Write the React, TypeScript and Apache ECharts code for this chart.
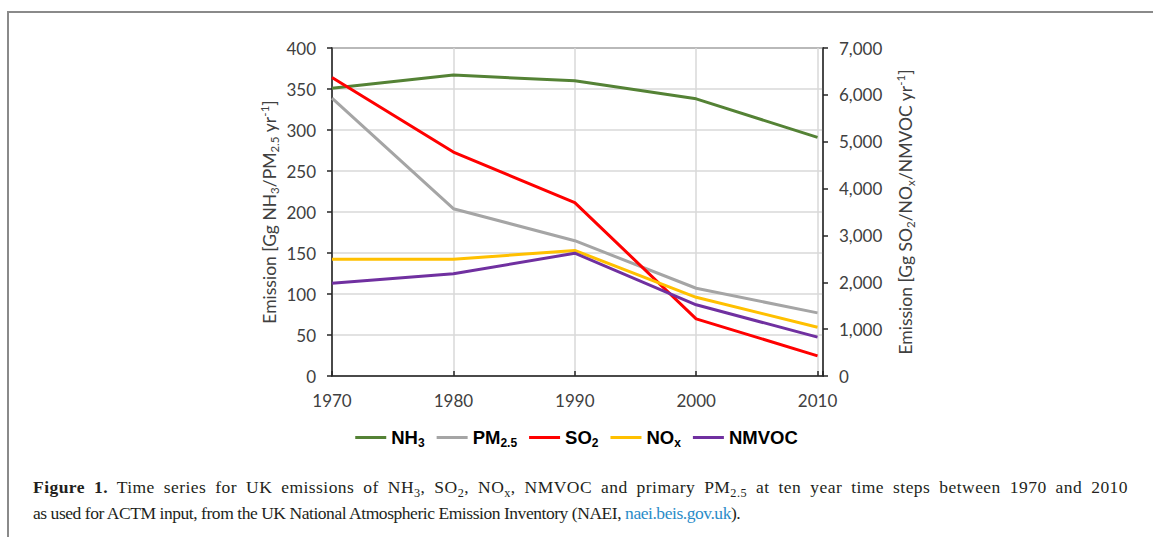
import React, { useEffect, useRef } from "react";
import * as echarts from "echarts";

const years = [1970, 1980, 1990, 2000, 2010];
const nh3 = [351, 367, 360, 338, 291];
const pm25 = [339, 204, 165, 107, 77];
const so2 = [6370, 4780, 3700, 1220, 430];
const nox = [2490, 2490, 2680, 1680, 1040];
const nmvoc = [1980, 2180, 2620, 1520, 830];

const leftTicks = { min: 0, max: 400, interval: 50 };
const rightTicks = { min: 0, max: 7000, interval: 1000 };

const seriesDefs = [
  { name: "NH3", label: "{b|NH}{s|3}", data: nh3, axis: 0, color: "#548235" },
  { name: "PM2.5", label: "{b|PM}{s|2.5}", data: pm25, axis: 0, color: "#a5a5a5" },
  { name: "SO2", label: "{b|SO}{s|2}", data: so2, axis: 1, color: "#ff0000" },
  { name: "NOx", label: "{b|NO}{s|x}", data: nox, axis: 1, color: "#ffc000" },
  { name: "NMVOC", label: "{b|NMVOC}", data: nmvoc, axis: 1, color: "#7030a0" },
];

const axisFont = "Lato, 'Noto Sans', sans-serif";
const axisColor = "#262626";
const labelColor = "#404040";

const nameRich = {
  t: { fontSize: 17.5, fontFamily: axisFont, color: labelColor, lineHeight: 22, verticalAlign: "middle" as const },
  sub: { fontSize: 11.5, fontFamily: axisFont, color: labelColor, verticalAlign: "bottom" as const, lineHeight: 13 },
  sup: { fontSize: 11.5, fontFamily: axisFont, color: labelColor, verticalAlign: "top" as const, lineHeight: 13 },
};

export default function App() {
  const ref = useRef<HTMLDivElement>(null);

  useEffect(() => {
    if (!ref.current) return;
    const chart = echarts.init(ref.current, undefined, { renderer: "svg" });
    chart.setOption({
      animation: false,
      grid: {
        left: 332,
        right: 330,
        top: 48,
        bottom: 161,
        containLabel: false,
        show: true,
        borderColor: axisColor,
        borderWidth: 1.5,
        backgroundColor: "transparent",
      },
      legend: {
        top: 423,
        left: "center",
        itemWidth: 31,
        itemHeight: 3,
        itemGap: 12,
        icon: "rect",
        data: seriesDefs.map((s) => s.name),
        formatter: (name: string) => {
          const d = seriesDefs.find((s) => s.name === name);
          return d ? d.label : name;
        },
        textStyle: {
          color: "#000",
          rich: {
            b: { fontSize: 18.5, fontWeight: "bold", fontFamily: "'Liberation Sans', Arial, sans-serif", color: "#000", lineHeight: 22, verticalAlign: "middle" },
            s: { fontSize: 12, fontWeight: "bold", fontFamily: "'Liberation Sans', Arial, sans-serif", color: "#000", verticalAlign: "bottom", lineHeight: 16 },
          },
        },
      },
      xAxis: {
        type: "value",
        min: 1970,
        max: 2010.45,
        interval: 10,
        axisLine: { show: true, lineStyle: { color: axisColor, width: 1.5 } },
        axisTick: { show: true, inside: true, length: 5, lineStyle: { color: axisColor, width: 1.5 } },
        axisLabel: {
          margin: 16,
          fontSize: 17,
          fontFamily: axisFont,
          color: labelColor,
          formatter: (v: number) => (Number.isInteger(v) && v % 10 === 0 ? String(v) : ""),
        },
        splitLine: { show: true, lineStyle: { color: "#d9d9d9", width: 1.5 } },
      },
      yAxis: [
        {
          type: "value",
          position: "left",
          min: leftTicks.min,
          max: leftTicks.max,
          interval: leftTicks.interval,
          axisLine: { show: true, lineStyle: { color: axisColor, width: 1.5 } },
          axisTick: { show: true, length: 5, lineStyle: { color: axisColor, width: 1.5 } },
          axisLabel: { margin: 16, fontSize: 17, fontFamily: axisFont, color: labelColor },
          splitLine: { show: true, lineStyle: { color: "#d9d9d9", width: 1.5 } },
          name: "{t|Emission [Gg NH}{sub|3}{t|/PM}{sub|2.5}{t| yr}{sup|-1}{t|]}",
          nameLocation: "middle",
          nameGap: 52,
          nameTextStyle: { rich: nameRich },
        },
        {
          type: "value",
          position: "right",
          min: rightTicks.min,
          max: rightTicks.max,
          interval: rightTicks.interval,
          axisLine: { show: true, lineStyle: { color: axisColor, width: 1.5 } },
          axisTick: { show: true, length: 5, lineStyle: { color: axisColor, width: 1.5 } },
          axisLabel: {
            margin: 16,
            fontSize: 17,
            fontFamily: axisFont,
            color: labelColor,
            formatter: (v: number) => v.toLocaleString("en-US"),
          },
          splitLine: { show: false },
          name: "{t|Emission [Gg SO}{sub|2}{t|/NO}{sub|x}{t|/NMVOC yr}{sup|-1}{t|]}",
          nameLocation: "middle",
          nameGap: 71,
          nameTextStyle: { rich: nameRich },
        },
      ],
      series: seriesDefs.map((s) => ({
        name: s.name,
        type: "line",
        yAxisIndex: s.axis,
        data: years.map((y, i) => [y, s.data[i]]),
        showSymbol: false,
        symbol: "none",
        color: s.color,
        lineStyle: { color: s.color, width: 3 },
        itemStyle: { color: s.color },
      })),
    });
    return () => chart.dispose();
  }, []);

  const subStyle: React.CSSProperties = { fontSize: "0.7em", verticalAlign: "-0.3em", lineHeight: 0 };
  const captionFont: React.CSSProperties = {
    fontFamily: "'Liberation Serif', 'DejaVu Serif', serif",
    fontSize: 17.5,
    letterSpacing: "-0.45px",
    lineHeight: "26px",
    color: "#231f20",
    whiteSpace: "nowrap",
  };

  return (
    <div style={{ position: "fixed", left: 0, top: 0, width: 1153, height: 537, background: "#fff", overflow: "hidden" }}>
      <div
        style={{
          position: "absolute",
          left: 7,
          top: 11,
          width: 1146,
          height: 526,
          borderTop: "2px solid #8a8a8a",
          borderLeft: "2px solid #8a8a8a",
          boxSizing: "border-box",
        }}
      />
      <div ref={ref} style={{ position: "absolute", left: 0, top: 0, width: 1153, height: 537 }} />
      <div
        style={{
          ...captionFont,
          letterSpacing: "0.45px",
          position: "absolute",
          left: 33,
          top: 474,
          width: 1095,
          whiteSpace: "normal",
          textAlign: "justify",
          textAlignLast: "justify",
          height: 26,
          overflow: "visible",
        }}
      >
        <b>Figure 1.</b> Time series for UK emissions of NH<sub style={subStyle}>3</sub>, SO<sub style={subStyle}>2</sub>, NO
        <sub style={subStyle}>x</sub>, NMVOC and primary PM<sub style={subStyle}>2.5</sub> at ten year time steps between 1970 and 2010
      </div>
      <div style={{ ...captionFont, position: "absolute", left: 33, top: 500 }}>
        as used for ACTM input, from the UK National Atmospheric Emission Inventory (NAEI,{" "}
        <span style={{ color: "#2a8cc8" }}>naei.beis.gov.uk</span>).
      </div>
    </div>
  );
}
